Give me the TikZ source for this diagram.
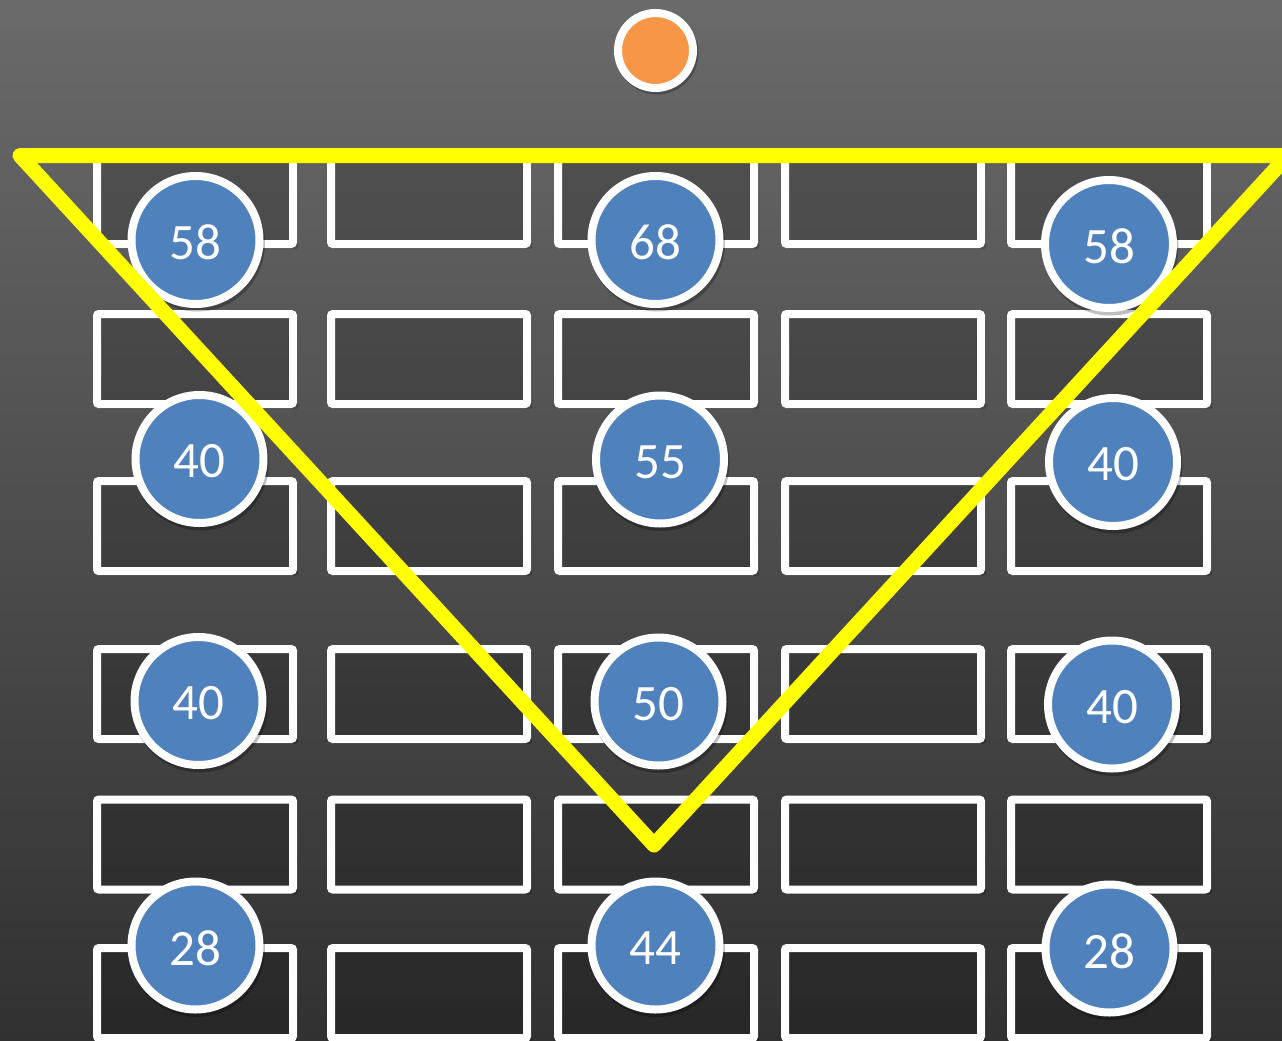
\documentclass[tikz,border=0pt]{standalone}
\usepackage{fontspec}
\setmainfont{Carlito}
\definecolor{boardtop}{HTML}{6A6A6A}
\definecolor{boardmid}{HTML}{535353}
\definecolor{boardbot}{HTML}{313131}
\definecolor{dotblue}{HTML}{4F81BD}
\definecolor{dotorange}{HTML}{F79646}
\definecolor{lineyellow}{HTML}{FFFF00}
\tikzset{
  seat/.style={draw=white, line width=8pt, rounded corners=2pt,
    minimum width=196pt, minimum height=90pt, inner sep=0pt},
  score/.style={circle, draw=white, fill=dotblue, line width=8pt,
    minimum size=128pt, inner sep=0pt},
  scoretext/.style={text=white, font=\fontsize{51}{61}\selectfont, inner sep=0pt},
  ball/.style={circle, draw=white, fill=dotorange, line width=8pt,
    minimum size=75pt, inner sep=0pt},
  cshadow/.style={fill=black, opacity=0.25},
  vline/.style={draw=lineyellow, line width=15pt, line join=round, line cap=round}
}
\begin{document}
\begin{tikzpicture}[x=1pt,y=-1pt]
\useasboundingbox (0,0) rectangle (1282,1041);
\clip (0,0) rectangle (1282,1041);
\shade[top color=boardtop, middle color=boardmid, bottom color=boardbot]
  (0,0) rectangle (1282,1041);
% seats
\foreach \r/\y in {1/199,2/359,3/526,4/694,5/844.5,6/993}{
  \foreach \c/\x in {1/195,2/429,3/656,4/883,5/1109}{
    \fill[black, opacity=0.18, rounded corners=2pt] (\x-96,\y-43) rectangle (\x+103,\y+50);
    \node[seat] (s\r\c) at (\x,\y) {};
  }
}
% ball
\fill[cshadow] (657,53) circle (41.5);
\node[ball] (ball) at (655.5,50.5) {};
% scores
\foreach \n/\x/\y/\t in {a/195.5/240/58, b/655.5/240/68, c/1109/244/58,
    d/199.5/459/40, e/660/459.5/55, f/1113/462/40,
    g/198.5/701/40, h/658.5/701.5/50, i/1112/704.5/40,
    j/195.5/945.5/28, k/655.5/945.5/44, l/1109.5/948.5/28}{
  \fill[cshadow] (\x+1.5,\y+3.5) circle (68);
  \node[score] (c\n) at (\x,\y) {};
  \node[scoretext, yshift=-2.5pt] (t\n) at (c\n.center) {\t};
}
% triangle
\coordinate (tl) at (20,155.5);
\coordinate (tr) at (1288,155.5);
\coordinate (tb) at (654,845);
\draw[vline] (tl) -- (tr) -- (tb) -- cycle;
\end{tikzpicture}
\end{document}
